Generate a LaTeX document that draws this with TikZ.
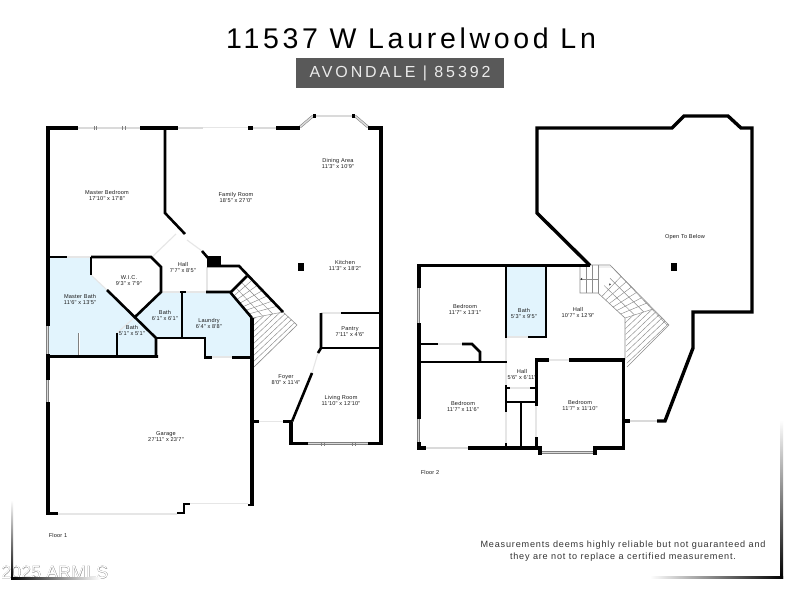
\documentclass[tikz,border=0pt]{standalone}
\usepackage{fontspec}
\usetikzlibrary{calc}
\newfontfamily\labfont[LetterSpace=3.5]{Liberation Sans}
\newfontfamily\titlefont[LetterSpace=13]{Liberation Sans}
\newfontfamily\subfont[LetterSpace=18]{Liberation Sans}
\newfontfamily\notefont[LetterSpace=9]{Liberation Sans}
\newfontfamily\markfont[FakeBold=0.25]{Liberation Sans}
\newfontfamily\markfontb{Liberation Sans}
\definecolor{roomblue}{HTML}{E2F4FD}
\definecolor{doorgrey}{HTML}{E6E6E6}
\definecolor{wingrey}{HTML}{808080}
\definecolor{winfill}{HTML}{DADADA}
\definecolor{stairgrey}{HTML}{8C8C8C}
\tikzset{
  wall/.style={draw=black,line width=3.4pt,line join=miter,line cap=butt},
  inwall/.style={draw=black,line width=2.6pt,line join=miter,line cap=butt},
  doorline/.style={draw=doorgrey,line width=1.1pt},
  winline/.style={draw=wingrey,line width=0.55pt,double=winfill,double distance=1.5pt},
  stair/.style={draw=stairgrey,line width=0.45pt},
  blue/.style={fill=roomblue,draw=none},
  roomlabel/.style={font=\labfont\fontsize{5.6}{6}\selectfont,align=center,text=black!90,inner sep=0pt},
}
\begin{document}
\begin{tikzpicture}[x=1pt,y=-1pt]
\useasboundingbox (0,0) rectangle (800,600);
\fill[white] (0,0) rectangle (800,600);

% ---------- blue rooms
\fill[blue] (48,257)--(91,257)--(91,275)--(107,290)--(156,338)--(156,357)--(48,357)--cycle;
\fill[blue] (161,292)--(182,292)--(182,338)--(156,338)--(135,317)--cycle;
\fill[blue] (182,292)--(230,292)--(252,318)--(252,357)--(205,357)--(205,338)--(182,338)--cycle;
\fill[blue] (506,266)--(546,266)--(546,337)--(506,337)--cycle;

% ---------- floor 1 stairs
\coordinate (fa) at (246,276);
\coordinate (fb) at (283,312);
\coordinate (fc) at (252,318);
\coordinate (fd) at (230,293);
\coordinate (fe) at (297,325);
\coordinate (ff) at (254,367);
\foreach \t in {0.14,0.28,0.42,0.56,0.7,0.84,1}
  \draw[stair] ($(fa)!\t!(fb)$) -- ($(fd)!\t!(fc)$);
\foreach \t in {0.33,0.66}
  \draw[stair] ($(fa)!\t!(fd)$) -- ($(fb)!\t!(fc)$);
\begin{scope}
  \clip (fc)--(fb)--(fe)--(ff)--cycle;
  \foreach \y in {321,327,...,369}
    \draw[stair] (252,\y) -- ++(50,-47.4);
\end{scope}
\draw[stair,line width=0.6pt] (fb)--(fe)--(ff);

% ---------- floor 1 doors
\draw[doorline] (58,514)--(177,514);
\draw[doorline] (190,503.5)--(248,503.5);
\draw[doorline] (259,421.5)--(283,421.5);
\draw[doorline] (312,373)--(318,353);
\draw[doorline] (321,313)--(341,313);
\draw[doorline] (203,127.5)--(248,127.5);
\draw[doorline] (67,257)--(91,257);
\draw[doorline] (91,275)--(107,290);
\draw[doorline] (117,333)--(135,317);
\draw[doorline] (161,292)--(206,292);
\draw[doorline] (207,267)--(207,292);
\draw[doorline] (152,257)--(176,234);
\draw[doorline] (187,240)--(202,251);
\draw[doorline] (212,357)--(232,357);

% ---------- floor 1 windows
\draw[winline] (78,128)--(140,128);
\foreach \x in {94,96,122,125} \draw[wingrey,line width=0.4pt] (\x,126)--(\x,130);
\draw[winline] (178,128)--(203,128);
\draw[winline] (253,128)--(276,128);
\draw[winline] (300,127)--(313,116);
\draw[winline] (313,116)--(355,116);
\draw[winline] (355,116)--(368,127);
\draw[winline] (308,443.5)--(368,443.5);
\foreach \x in {321,324,352,355} \draw[wingrey,line width=0.4pt] (\x,441.5)--(\x,445.5);
\draw[winline] (47.5,326)--(47.5,354);
\draw[winline] (47.5,380)--(47.5,402);
\draw[draw=wingrey,line width=0.4pt,double=white,double distance=1pt] (79,333)--(79,356);

% ---------- floor 1 walls
\draw[wall] (78,128)--(48,128)--(48,326);
\draw[wall] (48,354)--(48,380);
\draw[wall] (48,402)--(48,513.5)--(58,513.5);
\draw[wall] (140,128)--(178,128);
\draw[inwall] (165,128)--(165,213)--(185,234);
\draw[wall] (248,128)--(253,128);
\draw[wall] (276,128)--(300,128);
\draw[wall] (313,116)--(316,116);
\draw[wall] (352,116)--(355,116);
\draw[wall] (368,128)--(381,128)--(381,443.5)--(368,443.5);
\draw[wall] (308,443.5)--(291,443.5)--(291,421.5);
\draw[inwall] (292,421.5)--(283,421.5);
\draw[inwall] (292,421.5)--(312,373);
\draw[inwall] (318,353)--(321,348)--(321,313);
\draw[inwall] (341,313)--(381,313);
\draw[inwall] (321,348)--(381,348);
\draw[wall] (252,506)--(252,318);
\draw[inwall] (248,505)--(252,505);
\draw[inwall] (252,421.5)--(259,421.5);
\draw[inwall] (177,513)--(184,513)--(184,504)--(190,504);
\draw[inwall] (48,356.5)--(158,356.5)--(156,356.5)--(156,338)--(107,290);
\draw[inwall] (91,257)--(91,275);
\draw[inwall] (48,257)--(67,257);
\draw[inwall] (91,257)--(151,257)--(161,267)--(161,292)--(135,317);
\draw[inwall] (117,357)--(117,333);
\draw[inwall] (156,338)--(205,338)--(205,357.5)--(212,357.5);
\draw[inwall] (232,357.5)--(252,357.5);
\draw[inwall] (182,338)--(182,292);
\draw[inwall] (180,292)--(186,292);
\draw[inwall] (206,292)--(230,292)--(252,318);
\draw[inwall] (230,293)--(247,276);
\draw[inwall] (202,251)--(208,258);
\draw[inwall] (207,266)--(239,266)--(283,312);
\fill[black] (207,256) rectangle (221,267);
\fill[black] (298,263) rectangle (304,271);

% ---------- floor 2 stairs
\coordinate (sa) at (616,271);
\coordinate (sb) at (653,309);
\coordinate (sc) at (625,318);
\coordinate (sd) at (598,293);
\coordinate (se) at (669,325);
\coordinate (sf) at (627,367);
\coordinate (sg) at (580,265);
\coordinate (sh) at (610,265);
\coordinate (si) at (580,293);
\foreach \t in {0.14,0.28,0.42,0.56,0.7,0.84,1}
  \draw[stair] ($(sa)!\t!(sb)$) -- ($(sd)!\t!(sc)$);
\foreach \t in {0.33,0.66}
  \draw[stair] ($(sa)!\t!(sd)$) -- ($(sb)!\t!(sc)$);
\begin{scope}
  \clip (sc)--(sb)--(se)--(sf)--cycle;
  \foreach \y in {323,329,...,375}
    \draw[stair] (625,\y) -- ++(50,-47.4);
\end{scope}
\draw[stair,line width=0.6pt] (sg)--(sh)--(se)--(sf);
\draw[stair,line width=0.6pt] (sg)--(si)--(sd)--(sc)--(625,360);
\draw[stair,line width=0.4pt] (598,267)--(612,267)--(667,325);
\draw[stair] (586,265)--(586,293);
\draw[stair] (592,265)--(592,293);
\draw[stair] (598,265)--(598,293);
\draw[stair] (580,279)--(598,279);
\fill[black!80] (582,277.8)--(582,280.2)--(580.5,279)--cycle;
\fill[black!80] (611,284)--(609.5,285.5)--(609,283.5)--cycle;

% ---------- floor 2 doors
\draw[doorline] (438,344)--(462,344);
\draw[doorline] (507,337)--(528,337);
\draw[doorline] (506,338)--(506,385);
\draw[doorline] (510,388)--(530,388);
\draw[doorline] (506,412)--(506,444);
\draw[doorline] (536,406)--(536,437);
\draw[doorline] (549,360)--(569,360);

% ---------- floor 2 windows
\draw[winline] (418.5,288)--(418.5,323);
\draw[winline] (418.5,419)--(418.5,442);
\draw[winline] (426,448)--(468,448);
\draw[winline] (542,452.5)--(595,452.5);
\draw[winline] (630,421)--(657,421);

% ---------- floor 2 walls
\draw[wall] (590,265.5)--(419,265.5)--(419,288);
\draw[wall] (419,323)--(419,419);
\draw[wall] (419,442)--(419,448)--(426,448);
\draw[wall] (468,448)--(540,448)--(540,454.5);
\draw[wall] (595,454.5)--(595,448)--(623.5,448)--(623.5,360)--(569,360);
\draw[wall] (549,360)--(536.5,360)--(536.5,406);
\draw[inwall] (536.5,437)--(536.5,448);
\draw[inwall] (506,266)--(506,338);
\draw[inwall] (546,266)--(546,337)--(528,337);
\draw[inwall] (419,344)--(438,344);
\draw[inwall] (462,344)--(472,344)--(480,352)--(480,362);
\draw[inwall] (419,362)--(507,362);
\draw[inwall] (506,385)--(506,412);
\draw[inwall] (506,388)--(510,388);
\draw[inwall] (530,388)--(537,388);
\draw[inwall] (506,402)--(537,402);
\draw[inwall] (521,402)--(521,448);
\draw[inwall] (506,443)--(506,448);
\draw[wall] (623.5,421)--(630,421);
\draw[wall] (657,421)--(665,421)--(693,348)--(693,312)--(752,312)--(752,128)--(741,128)--(728,116)--(684,116)--(672,128)--(537,128)--(537,213)--(590,265.5);
\fill[black] (671,263) rectangle (677,271);

% ---------- room labels
\node[roomlabel] (lmbed) at (107,195) {Master Bedroom\\17'10" x 17'8"};
\node[roomlabel] (lfam) at (236,197) {Family Room\\18'5" x 27'0"};
\node[roomlabel] (ldin) at (338,163) {Dining Area\\11'3" x 10'9"};
\node[roomlabel] (lkit) at (345,265) {Kitchen\\11'3" x 18'2"};
\node[roomlabel] (lhall) at (183,267) {Hall\\7'7" x 8'5"};
\node[roomlabel] (lwic) at (129,281) {W.I.C.\\9'3" x 7'9"};
\node[roomlabel] (lmbath) at (80,299) {Master Bath\\11'6" x 13'5"};
\node[roomlabel] (lbatha) at (165,315) {Bath\\6'1" x 6'1"};
\node[roomlabel] (lbathb) at (132,330) {Bath\\5'1" x 5'1"};
\node[roomlabel] (llaun) at (209,323) {Laundry\\6'4" x 8'8"};
\node[roomlabel] (lpan) at (350,332) {Pantry\\7'11" x 4'6"};
\node[roomlabel] (lfoy) at (286,380) {Foyer\\8'0" x 11'4"};
\node[roomlabel] (lliv) at (341,400) {Living Room\\11'10" x 12'10"};
\node[roomlabel] (lgar) at (166,437) {Garage\\27'11" x 23'7"};
\node[roomlabel] (lfla) at (58,535.5) {Floor 1};
\node[roomlabel] (lbeda) at (465,309) {Bedroom\\11'7" x 13'1"};
\node[roomlabel] (lbathc) at (524,313) {Bath\\5'3" x 9'5"};
\node[roomlabel] (lhallb) at (522,374.5) {Hall\\5'6" x 6'11"};
\node[roomlabel] (lbedb) at (463,406) {Bedroom\\11'7" x 11'6"};
\node[roomlabel] (lbedc) at (580,405) {Bedroom\\11'7" x 11'10"};
\node[roomlabel] (lhallc) at (578,312.5) {Hall\\10'7" x 12'9"};
\node[roomlabel] (lopen) at (685,237) {Open To Below};
\node[roomlabel] (lflb) at (430,472) {Floor 2};

% ---------- title
\node[inner sep=0pt,text=black] (title) at (411,38.5) {\titlefont\fontsize{28.5}{32}\selectfont 11537 W Laurelwood Ln};
\node[fill=black!65,text=white!92!black,minimum width=208pt,minimum height=30pt,inner sep=0pt] (sub) at (400,73)
  {\subfont\fontsize{16}{18}\selectfont AVONDALE | 85392};
\node[align=center,inner sep=0pt,text=black!80] (note) at (623,551.5)
  {\notefont\fontsize{9.1}{11}\selectfont Measurements deems highly reliable but not guaranteed and\\
   \notefont\fontsize{9.1}{11}\selectfont they are not to replace a certified measurement.};

% ---------- watermark
\node[inner sep=0pt,anchor=west,text=black!60] (wma) at (1,572) {\markfont\fontsize{18}{20}\selectfont 2025 ARMLS};
\node[inner sep=0pt,anchor=west,text=white] (wmb) at (1,572) {\markfontb\fontsize{18}{20}\selectfont 2025 ARMLS};

% ---------- corner brackets
\shade[top color=white,middle color=black!35,bottom color=black] (780.5,420) rectangle (783,578);
\shade[left color=white,middle color=black!70,right color=black] (650,576) rectangle (783,578.5);
\shade[top color=white,middle color=black!45,bottom color=black] (11,500) rectangle (13,579);
\shade[left color=black,middle color=black!60,right color=white] (11,577.5) rectangle (100,579.5);
\end{tikzpicture}
\end{document}
